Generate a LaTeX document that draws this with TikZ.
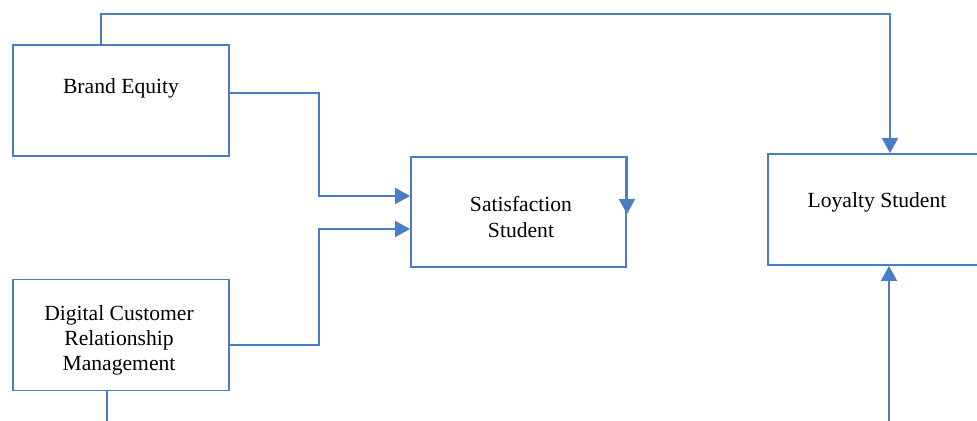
\documentclass[tikz,border=0pt]{standalone}
\usepackage{fontspec}
\setmainfont{Liberation Serif}
\usetikzlibrary{calc, arrows.meta}

\definecolor{lineblue}{HTML}{4A7EC4}

\begin{document}
\begin{tikzpicture}[x=0.02cm, y=-0.02cm,
  box/.style={draw=lineblue, line width=1.1pt, minimum width=4.32cm, minimum height=2.22cm, inner sep=0pt},
  txt/.style={align=center, font=\fontsize{12.3}{14.3}\selectfont},
  link/.style={draw=lineblue, line width=1.1pt},
  arr/.style={link, -{Triangle[length=0.3cm, width=0.32cm]}}]
\useasboundingbox (0,0) rectangle (977,421);
\clip (0,0) rectangle (977,421);
% the four boxes
\node[box] (brand) at (121,100.5) {};
\node[box] (dcrm) at (121,335) {};
\node[box, minimum width=4.30cm, minimum height=2.20cm] (sat) at (518.5,212) {};
\node[box] (loyal) at (876,209.5) {};
% their texts
\node[txt] (brandtxt) at (121,88) {Brand Equity};
\node[txt] (dcrmtxt) at (119,340) {Digital Customer\\Relationship\\Management};
\node[txt] (sattxt) at (521,217) {Satisfaction\\Student};
\node[txt] (loyaltxt) at (877,202) {Loyalty Student};
% bends and loose ends
\coordinate (topbend) at (890,14);
\coordinate (dcrmout) at (107,421);
\coordinate (loyin) at (889,421);
% connectors
\draw[arr] ($(brand.north)+(-20,0)$) |- (topbend) -- (topbend |- loyal.north);
\draw[arr] ($(brand.east)+(0,-7.5)$) -| (319,196) -- ($(sat.west)+(0,-16)$);
\draw[arr] ($(dcrm.east)+(0,10)$) -| (319,229) -- ($(sat.west)+(0,17)$);
\draw[arr] (sat.north east) -- ($(sat.north east)+(0,58)$);
\draw[link] ($(dcrm.south)+(-14,0)$) -- (dcrmout);
\draw[arr] (loyin) -- (loyin |- loyal.south);
\end{tikzpicture}
\end{document}
